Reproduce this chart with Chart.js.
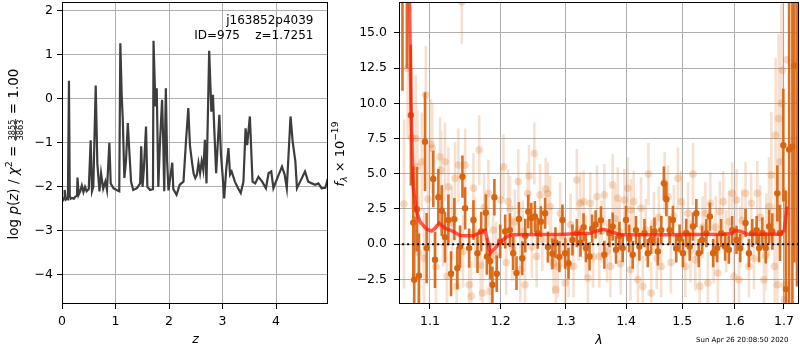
<!DOCTYPE html>
<html><head><meta charset="utf-8">
<script src="https://cdn.jsdelivr.net/npm/chart.js@4.4.1/dist/chart.umd.min.js"></script>
<style>html,body{margin:0;padding:0;background:#fff;} canvas{position:absolute;left:0;top:0;}</style>
</head><body>
<canvas id="c1" width="800" height="350"></canvas>
<canvas id="c2" width="800" height="350"></canvas>
<script>
// ---------- left panel: log p(z) ----------
const zGrid = [0.00,0.02,0.04,0.05,0.07,0.09,0.11,0.13,0.145,0.16,0.19,0.22,0.25,0.28,0.29,0.31,0.34,0.37,0.40,0.43,0.46,0.50,0.536,0.56,0.585,0.63,0.66,0.70,0.73,0.77,0.81,0.84,0.885,0.91,0.96,1.02,1.07,1.09,1.115,1.135,1.165,1.195,1.23,1.255,1.29,1.33,1.40,1.46,1.48,1.505,1.53,1.57,1.595,1.645,1.70,1.71,1.745,1.77,1.80,1.83,1.87,1.89,1.91,1.94,1.965,1.99,2.06,2.08,2.14,2.20,2.27,2.32,2.36,2.39,2.43,2.46,2.49,2.52,2.55,2.58,2.61,2.64,2.67,2.70,2.75,2.79,2.82,2.85,2.88,2.94,2.97,3.00,3.03,3.07,3.11,3.14,3.17,3.23,3.29,3.34,3.39,3.43,3.46,3.51,3.56,3.61,3.67,3.74,3.81,3.86,3.91,3.95,4.01,4.11,4.16,4.20,4.27,4.31,4.36,4.39,4.45,4.54,4.60,4.67,4.73,4.79,4.85,4.92,4.97];
const logPz = [-2.28,-2.30,-2.25,-2.07,-2.29,-2.27,-2.28,0.41,-2.20,-2.27,-2.25,-2.27,-2.22,-2.20,-1.79,-2.18,-2.10,-1.97,-2.12,-2.00,-2.10,-2.05,-0.94,-2.10,-2.00,0.30,-1.46,-2.10,-1.69,-2.04,-1.88,-2.07,-1.00,-1.92,-2.03,-2.07,-2.10,1.26,0.09,-0.44,-1.80,-1.42,-0.55,-1.12,-1.88,-2.07,-2.03,-1.92,-1.08,-2.00,-1.58,-0.63,-2.00,-2.07,-2.05,1.32,-0.17,0.24,-2.00,-1.00,-0.02,-0.90,-2.10,0.24,-1.43,-2.08,-1.45,-2.05,-2.18,-1.95,-1.88,-0.90,-0.21,-1.05,-1.45,-1.70,-1.80,-1.73,-1.46,-1.69,-1.42,-1.62,-0.93,-1.92,1.09,-0.29,0.09,-0.82,-1.69,-0.36,-1.27,-1.72,-2.26,-1.58,-1.12,-1.72,-1.65,-1.88,-2.03,-2.14,-1.88,-0.67,-1.05,-0.40,-1.88,-1.92,-1.77,-1.88,-2.03,-1.69,-1.65,-2.03,-1.84,-1.54,-1.72,-2.03,-0.40,-0.97,-1.42,-2.03,-1.88,-1.65,-1.88,-1.92,-1.95,-1.92,-2.03,-2.02,-1.80];
const leftXTicks = [0,1,2,3,4];
const leftYTicks = [-4,-3,-2,-1,0,1,2];

// ---------- right panel: spectrum ----------
const darkLam = [1.0634,1.0692,1.0745,1.0776,1.0789,1.0825,1.0852,1.0933,1.0955,1.1045,1.1068,1.1114,1.1160,1.1205,1.1252,1.1289,1.1335,1.1377,1.1415,1.1448,1.1486,1.1543,1.1604,1.1662,1.1715,1.1782,1.1797,1.1845,1.1878,1.1907,1.1942,1.1992,1.2066,1.2137,1.2186,1.2235,1.2272,1.2322,1.2368,1.2414,1.2460,1.2515,1.2558,1.2607,1.2673,1.2717,1.2788,1.2835,1.2898,1.2946,1.2990,1.3043,1.3107,1.3177,1.3237,1.3287,1.3325,1.3385,1.3427,1.3485,1.3573,1.3631,1.3716,1.3771,1.3828,1.3886,1.3942,1.3999,1.4054,1.4115,1.4172,1.4231,1.4320,1.4379,1.4438,1.4498,1.4558,1.4620,1.4666,1.4711,1.4769,1.4829,1.4890,1.4952,1.5014,1.5075,1.5139,1.5200,1.5263,1.5308,1.5371,1.5453,1.5519,1.5582,1.5659,1.5735,1.5813,1.5886,1.5951,1.6036,1.6109,1.6215,1.6283,1.6350,1.6438,1.6487,1.6554,1.6623,1.6693,1.6758,1.6862,1.6918,1.6987,1.7040,1.7108,1.7177,1.7213,1.7273,1.7326];
const darkFlux = [19.5,19.0,9.16,1.53,-2.53,2.48,-2.24,7.27,-0.28,4.63,-1.11,3.33,2.38,0.50,1.72,-2.10,1.77,-1.70,-0.17,4.79,2.55,-0.28,1.72,-0.64,0.90,2.24,-0.87,-1.20,-2.88,3.33,-2.10,0.20,0.90,1.00,-0.64,-2.05,1.79,-1.00,0.60,2.31,1.85,1.96,0.78,1.60,2.20,-0.20,-0.68,0.10,-0.90,1.72,-0.64,-1.35,0.30,0.78,0.10,1.20,-0.28,-0.87,1.10,1.40,1.70,-0.75,0.78,1.25,-0.40,0.60,-0.28,1.72,0.40,-0.75,1.00,-0.17,0.78,-0.64,0.30,0.90,-0.52,1.00,4.32,3.19,1.00,1.72,-0.30,0.40,-0.64,0.80,-0.17,1.25,2.20,-0.64,0.30,0.78,1.96,-0.64,-0.28,0.78,-0.17,-0.40,1.00,0.30,-0.28,1.50,-0.64,0.78,1.00,-0.28,0.80,-0.28,1.25,0.90,3.61,0.80,7.03,-3.19,6.73,6.92,12.7,21.0,20.0];
const darkErr = [8.6,6.5,5.0,4.0,4.5,3.0,3.0,3.5,2.5,2.0,2.0,2.0,1.8,1.8,1.8,1.6,1.5,1.5,1.5,1.5,1.5,1.4,1.4,1.4,1.4,1.3,1.3,1.3,1.3,1.3,1.3,1.2,1.2,1.2,1.2,1.2,1.2,1.2,1.2,1.2,1.1,1.1,1.1,1.1,1.1,1.1,1.1,1.1,1.1,1.1,1.1,1.1,1.1,1.0,1.0,1.0,1.0,1.0,1.0,1.0,1.0,1.0,1.0,1.0,1.0,1.0,1.0,1.0,1.0,1.0,1.0,1.0,1.0,1.0,1.0,1.0,1.0,1.0,1.2,1.2,1.0,1.0,1.0,1.0,1.0,1.0,1.0,1.0,1.0,1.0,1.0,1.0,1.0,1.0,1.0,1.0,1.0,1.0,1.0,1.0,1.0,1.0,1.0,1.0,1.0,1.0,1.1,1.1,1.2,1.3,2.0,2.0,4.0,7.0,12,12,14,24,23];

const lightLam = [1.0654,1.0703,1.0757,1.0810,1.0831,1.0847,1.0890,1.0920,1.0943,1.0973,1.1014,1.1031,1.1081,1.1137,1.1150,1.1177,1.1205,1.1232,1.1252,1.1302,1.1344,1.1366,1.1391,1.1438,1.1457,1.1486,1.1543,1.1571,1.1604,1.1628,1.1687,1.1708,1.1734,1.1758,1.1820,1.1841,1.1888,1.1932,1.2002,1.2041,1.2081,1.2111,1.2137,1.2171,1.2212,1.2262,1.2292,1.2330,1.2364,1.2404,1.2425,1.2468,1.2507,1.2542,1.2595,1.2630,1.2682,1.2713,1.2751,1.2764,1.2804,1.2840,1.2872,1.2910,1.2946,1.2990,1.3043,1.3075,1.3123,1.3177,1.3205,1.3232,1.3287,1.3325,1.3358,1.3397,1.3444,1.3507,1.3547,1.3585,1.3631,1.3678,1.3733,1.3771,1.3814,1.3857,1.3891,1.3908,1.3972,1.4029,1.4075,1.4085,1.4132,1.4203,1.4260,1.4290,1.4344,1.4391,1.4438,1.4486,1.4540,1.4576,1.4617,1.4678,1.4738,1.4793,1.4848,1.4922,1.4983,1.5014,1.5058,1.5108,1.5154,1.5200,1.5244,1.5327,1.5380,1.5434,1.5480,1.5529,1.5592,1.5631,1.5672,1.5711,1.5776,1.5835,1.5893,1.5951,1.5986,1.6036,1.6085,1.6109,1.6149,1.6215,1.6283,1.6329,1.6384,1.6451,1.6512,1.6587,1.6616,1.6634,1.6690,1.6737,1.6806,1.6827,1.6862,1.6889,1.6918,1.6945,1.6966,1.7009,1.7015,1.7057];
const lightFlux = [2.85,12.5,7.55,7.5,5.5,-0.6,5.85,-1.0,10.6,3.2,7.1,6.8,-1.6,6.2,5.27,1.2,5.85,-2.3,4.08,1.5,4.67,-3.0,5.62,17.2,-0.5,5.62,-2.88,-3.7,3.97,0.8,6.68,-1.5,-3.47,2.6,3.6,-3.35,1.0,-0.8,3.14,5.5,-1.3,3.02,2.55,-0.3,1.6,4.44,-1.8,0.9,-2.88,3.6,4.84,-0.2,6.44,-0.87,3.5,0.3,3.92,3.6,2.67,0.4,-1.35,-3.23,-1.58,2.2,0.6,-2.76,-1.58,1.4,-1.58,4.56,1.0,2.9,3.02,-0.17,-2.41,2.9,-0.9,3.38,-0.87,0.9,3.5,-0.5,-1.58,4.2,1.8,3.26,0.9,-1.4,3.14,3.97,-1.82,2.43,3.02,-2.53,2.55,-3.0,1.0,4.98,-3.47,1.5,-1.0,1.9,-1.58,4.37,3.38,-1.3,2.0,4.67,3.02,0.7,-1.58,2.2,-0.5,4.98,-1.1,-3.0,1.2,2.2,-2.76,2.9,-0.6,1.2,-2.05,2.31,3.02,0.2,1.6,3.61,-2.29,3.14,-2.53,0.5,1.7,3.61,-1.58,2.9,-1.0,3.61,1.9,-2.53,-0.8,0.6,2.67,4.91,-1.58,7.74,-2.88,8.92,5.85,10.0,12.35,-3.94,-2.88,13.1];
const lightErr = [6,5,5,4.5,4,4,3.5,3.5,3.5,3.5,3.2,3.2,3,2.8,2.8,2.8,2.8,2.8,2.8,2.6,2.6,2.6,2.6,3.0,2.6,2.6,2.5,2.5,2.5,2.5,2.5,2.5,2.5,2.4,2.4,2.4,2.4,2.4,2.3,2.3,2.3,2.3,2.3,2.3,2.3,2.3,2.3,2.2,2.2,2.2,2.2,2.2,2.2,2.2,2.2,2.2,2.2,2.2,2.2,2.2,2.2,2.2,2.2,2.2,2.2,2.2,2.2,2.2,2.2,2.2,2.2,2.2,2.2,2.2,2.2,2.2,2.2,2.2,2.2,2.2,2.2,2.2,2.2,2.2,2.2,2.2,2.2,2.2,2.2,2.2,2.2,2.2,2.2,2.2,2.2,2.2,2.2,2.2,2.2,2.2,2.2,2.2,2.2,2.2,2.2,2.2,2.2,2.2,2.2,2.2,2.2,2.2,2.2,2.2,2.2,2.2,2.2,2.2,2.2,2.2,2.2,2.2,2.2,2.2,2.2,2.2,2.2,2.2,2.2,2.2,2.2,2.2,2.2,2.2,2.2,2.2,2.2,2.3,2.3,2.3,2.5,3.0,3.5,4.5,4.5,5.5,5.5,6,6.5,7,8,8];

const modelLam = [1.0725,1.0745,1.0776,1.0812,1.0865,1.0955,1.1023,1.1068,1.1127,1.1205,1.1321,1.1415,1.1603,1.1724,1.1772,1.1805,1.1845,1.1918,1.2002,1.2091,1.2166,1.2965,1.3399,1.3510,1.3620,1.3733,1.3904,1.4661,1.5787,1.5944,1.6023,1.6122,1.6256,1.6937,1.7006,1.7063];
const modelFlux = [18.0,10.2,4.08,2.43,1.6,1.06,0.94,1.13,1.49,1.13,0.9,0.61,0.59,0.9,1.0,0.31,-0.64,-0.28,0.19,0.54,0.66,0.71,0.78,0.94,1.06,0.9,0.66,0.66,0.71,0.75,0.97,0.9,0.71,0.71,1.0,2.67];
const zeroLam = [1.05, 1.75];
const zeroFlux = [0, 0];
const rightXTicks = [1.1,1.2,1.3,1.4,1.5,1.6,1.7];
const rightYTicks = [-2.5,0,2.5,5,7.5,10,12.5,15];

// ---------- helpers ----------
const FONT = "'DejaVu Sans', sans-serif";
const FS = 12.5;
const LN = "13.5px " + FONT, LI = "italic 13.5px " + FONT, LS = "9.5px " + FONT, LF = "8.2px " + FONT;
const RN = "13px " + FONT, RI = "italic 13px " + FONT, RS = "9.1px " + FONT, RSI = "italic 9.1px " + FONT;
const XI = "italic " + FS + "px " + FONT;
const minus = s => String(s).replace('-', '\u2212');
const pts = (xs, ys) => xs.map((x, i) => ({x: x, y: ys[i]}));
function errSegments(xs, ys, es) {
  const out = [];
  xs.forEach((x, i) => { out.push({x: x, y: ys[i] - es[i]}, {x: x, y: ys[i] + es[i]}, {x: x, y: null}); });
  return out;
}
function drawParts(ctx, parts, cx, cy, rot) {
  ctx.save(); ctx.translate(cx, cy); if (rot) ctx.rotate(rot);
  ctx.textBaseline = 'alphabetic'; ctx.fillStyle = '#000';
  const w = []; let total = 0;
  parts.forEach(p => {
    ctx.font = p.font;
    const ww = p.frac ? Math.max(ctx.measureText(p.frac[0]).width, ctx.measureText(p.frac[1]).width) + 2 : ctx.measureText(p.t).width;
    w.push(ww); total += ww;
  });
  let x = -total / 2;
  parts.forEach((p, i) => {
    ctx.font = p.font;
    if (p.frac) {
      ctx.textAlign = 'center';
      ctx.fillText(p.frac[0], x + w[i] / 2, p.ny);
      ctx.fillText(p.frac[1], x + w[i] / 2, p.dy2);
      ctx.fillRect(x + 0.5, p.by - 0.4, w[i] - 1, 0.8);
    } else {
      ctx.textAlign = 'left';
      ctx.fillText(p.t, x, p.dy || 0);
    }
    x += w[i];
  });
  ctx.restore();
}
const boxPlugin = { id: 'box', afterDraw(chart) {
  const a = chart.chartArea, c = chart.ctx;
  c.save(); c.strokeStyle = '#000'; c.lineWidth = 1;
  c.strokeRect(Math.round(a.left) + 0.5, Math.round(a.top) + 0.5, Math.round(a.right - a.left) - 1, Math.round(a.bottom - a.top) - 1);
  c.restore();
}};
function axisX(min, max, ticks, type, fmt) {
  return { type: type, min: min, max: max,
    afterBuildTicks(s) { s.ticks = ticks.map(v => ({value: v})); },
    afterFit(s) { s.height = 46; s.paddingLeft = 0; s.paddingRight = 0; },
    grid: {color: '#b0b0b0', lineWidth: 1, tickColor: '#000', tickLength: 5, drawTicks: true},
    border: {display: false},
    ticks: {font: {family: FONT, size: FS}, color: '#000', padding: 5, maxRotation: 0, autoSkip: false, callback: fmt}
  };
}
function axisY(min, max, ticks, width, pad, fmt) {
  return { type: 'linear', min: min, max: max,
    afterBuildTicks(s) { s.ticks = ticks.map(v => ({value: v})); },
    afterFit(s) { s.width = width; s.paddingTop = 0; s.paddingBottom = 0; },
    grid: {color: '#b0b0b0', lineWidth: 1, tickColor: '#000', tickLength: 5, drawTicks: true},
    border: {display: false},
    ticks: {font: {family: FONT, size: FS}, color: '#000', padding: pad, autoSkip: false, callback: fmt}
  };
}
const baseOpts = {responsive: false, animation: false, devicePixelRatio: 1,
  plugins: {legend: {display: false}, tooltip: {enabled: false}}};

// ---------- left chart ----------
const leftText = { id: 'lt', afterDraw(chart) {
  const c = chart.ctx;
  drawParts(c, [
    {t: 'log ', font: LN}, {t: 'p', font: LI}, {t: '(', font: LN}, {t: 'z', font: LI}, {t: ') / ', font: LN},
    {t: '\u03c7', font: LI}, {t: '2', font: LS, dy: -5.5}, {t: ' = ', font: LN},
    {frac: ['3855', '3863'], font: LF, ny: -3.0, dy2: 5.6, by: -1.8},
    {t: ' = 1.00', font: LN}
  ], 17.5, 154, -Math.PI / 2);
  drawParts(c, [{t: 'z', font: XI}], 195.5, 343, 0);
  c.save(); c.fillStyle = '#000'; c.font = "12px " + FONT; c.textAlign = 'right'; c.textBaseline = 'alphabetic';
  c.fillText('j163852p4039', 313.5, 24);
  c.fillText('ID=975    z=1.7251', 313.5, 39);
  c.restore();
}};
new Chart(document.getElementById('c1'), {
  type: 'scatter',
  data: {datasets: [{data: pts(zGrid, logPz), showLine: true, borderColor: '#3d3d3d', borderWidth: 2.2, pointRadius: 0, tension: 0, clip: 0}]},
  options: Object.assign({}, baseOpts, {
    layout: {autoPadding: false, padding: {left: 0, top: 2, right: 472, bottom: 0}},
    scales: {
      x: axisX(0, 4.97, leftXTicks, 'linear', v => minus(v)),
      y: axisY(-4.66, 2.2, leftYTicks, 62, 4, v => minus(v))
    }
  }),
  plugins: [boxPlugin, leftText]
});

// ---------- right chart ----------
const DARK = 'rgb(216,100,16)';
const rightText = { id: 'rt', afterDraw(chart) {
  const c = chart.ctx;
  drawParts(c, [
    {t: 'f', font: RI}, {t: '\u03bb', font: RSI, dy: 2.7}, {t: ' \u00d7 10', font: RN}, {t: '\u221219', font: RS, dy: -5.8}
  ], 344, 154, -Math.PI / 2);
  drawParts(c, [{t: '\u03bb', font: XI}], 599, 344, 0);
  c.save(); c.fillStyle = '#000'; c.font = "7px " + FONT; c.textAlign = 'left'; c.textBaseline = 'alphabetic';
  c.fillText('Sun Apr 26 20:08:50 2020', 696, 342);
  c.restore();
}};
new Chart(document.getElementById('c2'), {
  type: 'scatter',
  data: {datasets: [
    {data: pts(zeroLam, zeroFlux), showLine: true, borderColor: '#000', borderWidth: 2, borderDash: [2, 3], pointRadius: 0, clip: 0, order: 0},
    {data: pts(modelLam, modelFlux), showLine: true, borderColor: 'rgba(255,25,10,0.72)', borderWidth: 3.5, pointRadius: 0, tension: 0, clip: 0, order: 1},
    {data: pts(darkLam, darkFlux), pointRadius: 3.2, pointBackgroundColor: DARK, pointBorderWidth: 0, clip: 0, order: 2},
    {data: errSegments(darkLam, darkFlux, darkErr), showLine: true, spanGaps: false, borderColor: 'rgba(216,100,16,0.92)', borderWidth: 2.6, pointRadius: 0, clip: 0, order: 3},
    {data: pts(lightLam, lightFlux), pointRadius: 3.8, pointBackgroundColor: 'rgba(216,100,16,0.24)', pointBorderWidth: 0, clip: 0, order: 4},
    {data: errSegments(lightLam, lightFlux, lightErr), showLine: true, spanGaps: false, borderColor: 'rgba(216,100,16,0.2)', borderWidth: 2.6, pointRadius: 0, clip: 0, order: 5}
  ]},
  options: Object.assign({}, baseOpts, {
    layout: {autoPadding: false, padding: {left: 0, top: 2, right: 1, bottom: 0}},
    scales: {
      x: axisX(1.0589, 1.7317, rightXTicks, 'logarithmic', v => Number(v).toFixed(1)),
      y: axisY(-4.25, 17.2, rightYTicks, 399, 7, v => minus(Number(v).toFixed(1)))
    }
  }),
  plugins: [boxPlugin, rightText]
});
</script>
</body></html>
